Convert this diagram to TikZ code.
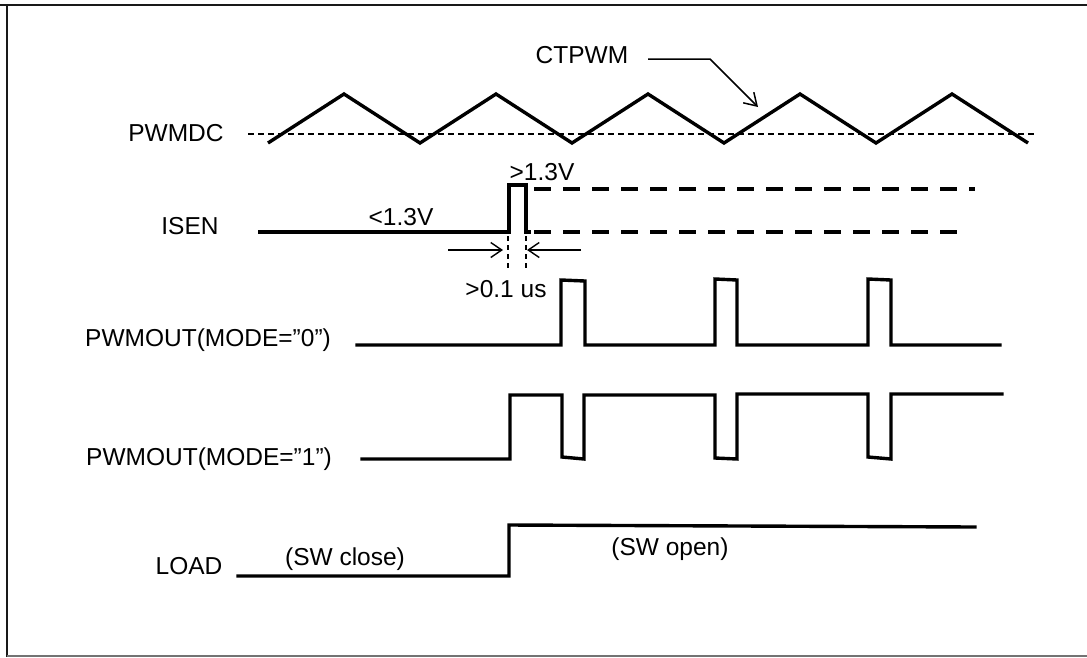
\documentclass[tikz,border=0pt]{standalone}
\usepackage{fontspec}
\setmainfont{Liberation Sans}
\usetikzlibrary{arrows.meta}
\begin{document}
\begin{tikzpicture}[x=1pt,y=-1pt,
  sig/.style={line width=3.4pt, line join=miter, line cap=rect},
  lbl/.style={font=\fontsize{24.5}{29}\selectfont, inner sep=0pt, anchor=base},
  thindash/.style={line width=1.3pt, dash pattern=on 6pt off 4pt},
  thickdash/.style={line width=3.4pt, dash pattern=on 17pt off 12pt},
  vdash/.style={line width=1.4pt, dash pattern=on 5pt off 4pt},
  dimarrow/.style={line width=1.4pt, -{Straight Barb[length=11pt,width=15pt,line width=1.4pt]}},
  leader/.style={line width=1.5pt, -{Straight Barb[length=12pt,width=15pt,line width=1.5pt]}}]
\useasboundingbox (0,0) rectangle (1087,657);
% frame
\draw[line width=2.2pt, black!90] (0,5) -- (1087,5);
\draw[line width=2.2pt, black!90] (7,5) -- (7,657);
\draw[line width=1.6pt, black!55] (7,656) -- (1087,656);

% labels
\node[lbl] (pwmdc) at (176,141.5) {PWMDC};
\node[lbl] (ctpwm) at (582,63) {CTPWM};
\node[lbl] (isen) at (190,234) {ISEN};
\node[lbl] (lo) at (401,225) {<1.3V};
\node[lbl] (hi) at (542,180.5) {>1.3V};
\node[lbl] (tw) at (506,297.5) {>0.1 us};
\node[lbl] (m0) at (208,346.5) {PWMOUT(MODE=”0”)};
\node[lbl] (m1) at (209,465.5) {PWMOUT(MODE=”1”)};
\node[lbl] (load) at (189,574) {LOAD};
\node[lbl] (swc) at (345,565) {(SW close)};
\node[lbl] (swo) at (670,555) {(SW open)};

% PWMDC level and CTPWM triangle
\draw[thindash] (248,134) -- (1036,134);
\draw[sig, line cap=butt] (268,143) -- (344,94) -- (420,143) -- (496,94) -- (572,143)
  -- (648,94) -- (724,143) -- (800,94) -- (876,143) -- (952,94) -- (1028,143);

% CTPWM leader
\coordinate (c1) at (648,59);
\coordinate (c2) at (710,59);
\coordinate (c3) at (758,107);
\draw[leader] (c1) -- (c2) -- (c3);

% ISEN
\draw[sig] (260,232) -- (509,232) -- (509,185) -- (526,185) -- (526,232) -- (529,232);
\draw[thickdash] (534,189) -- (975,189);
\draw[thickdash] (534,232) -- (963,232);
\draw[vdash] (508,236) -- (508,268);
\draw[vdash] (526,236) -- (526,268);
\coordinate (a1) at (448,250);
\coordinate (a2) at (503,250);
\coordinate (b1) at (581,250);
\coordinate (b2) at (527,250);
\draw[dimarrow] (a1) -- (a2);
\draw[dimarrow] (b1) -- (b2);

% PWMOUT MODE 0
\draw[sig] (357,345) -- (561,345) -- (561,280) -- (585,281) -- (585,345) -- (715,345)
  -- (715,279) -- (737,280) -- (737,345) -- (868,345) -- (868,279) -- (891,280)
  -- (891,345) -- (1000,345);

% PWMOUT MODE 1
\draw[sig] (362,459) -- (510,459) -- (510,395) -- (562,395) -- (562,457) -- (584,459)
  -- (584,395) -- (715,395) -- (715,458) -- (737,459) -- (737,394) -- (868,394)
  -- (868,457) -- (891,459) -- (891,394) -- (1002,394);

% LOAD
\draw[sig] (238,576) -- (509,576) -- (509,525) -- (975,527);
\end{tikzpicture}
\end{document}
